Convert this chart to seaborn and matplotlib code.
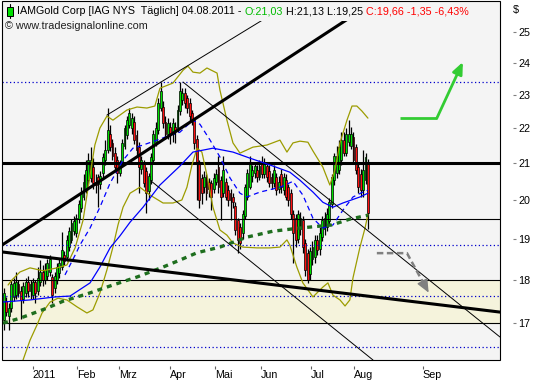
import numpy as np
import matplotlib
matplotlib.use("Agg")
import matplotlib.pyplot as plt
import seaborn as sns
from matplotlib.offsetbox import TextArea, HPacker, AnchoredOffsetbox, DrawingArea
from matplotlib.patches import Rectangle
from matplotlib.lines import Line2D
from matplotlib.ticker import FixedLocator, FixedFormatter, NullLocator

sns.set_style("white")
plt.rcParams['font.family'] = ['Liberation Sans', 'DejaVu Sans']

# ---------------- data ----------------
opens = [17.07, 17.50, 17.15, 17.35, 17.60, 17.65, 17.90, 17.75, 17.55, 17.70,
         17.95, 17.75, 17.65, 17.95, 17.75, 17.95, 18.20, 18.00, 18.10, 18.20,
         18.07, 17.80, 18.00, 18.17, 18.32, 18.60, 18.55, 18.80, 18.98, 19.20,
         19.15, 19.50, 19.80, 20.10, 20.27, 20.54, 20.60, 20.90, 20.50, 20.62,
         20.45, 20.74, 21.10, 21.38, 21.85, 21.57, 21.30, 21.10, 20.75, 21.00,
         21.50, 21.80, 22.10, 22.00, 22.20, 21.80, 21.45, 20.85, 21.00, 20.80,
         20.25, 20.54, 21.10, 21.60, 21.95, 22.60, 22.63, 22.20, 21.85, 22.05,
         21.85, 22.05, 22.00, 22.50, 22.85, 23.05, 22.90, 22.75, 22.45, 22.24,
         21.70, 21.05, 20.60, 20.35, 20.60, 20.50, 20.46, 20.30, 20.50, 20.90,
         20.54, 20.20, 20.50, 20.27, 20.20, 20.10, 19.85, 19.48, 19.30, 19.15,
         19.60, 20.10, 20.35, 20.65, 20.75, 20.82, 20.62, 21.00, 20.72, 20.92,
         20.80, 20.62, 20.46, 20.62, 20.30, 20.72, 20.27, 20.54, 20.35, 20.20,
         19.65, 19.55, 19.00, 19.25, 19.48, 18.90, 18.65, 18.15, 18.50, 18.55,
         18.98, 18.75, 19.05, 19.25, 19.30, 19.45, 19.90, 20.54, 20.75, 20.82,
         21.09, 21.66, 21.30, 21.60, 21.50, 21.75, 21.45, 20.90, 20.72, 20.27,
         20.54, 21.03]
closes = [17.70, 17.25, 17.35, 17.90, 17.93, 17.95, 17.70, 17.53, 17.85, 17.95,
          17.75, 17.90, 17.95, 17.70, 18.05, 18.20, 18.00, 18.25, 18.40, 18.50,
          17.65, 18.10, 18.30, 18.40, 18.73, 18.45, 18.98, 19.20, 19.40, 19.45,
          19.55, 19.90, 20.20, 20.50, 20.82, 21.09, 21.10, 20.46, 20.40, 20.46,
          20.65, 21.17, 21.38, 21.95, 21.47, 21.20, 20.90, 20.74, 21.00, 21.57,
          22.00, 22.24, 22.45, 22.30, 21.66, 21.38, 20.90, 21.09, 20.46, 20.20,
          20.65, 21.17, 21.85, 22.00, 22.75, 23.10, 22.15, 21.85, 22.15, 21.85,
          22.15, 21.95, 22.55, 23.10, 23.05, 22.75, 22.60, 22.35, 22.24, 21.57,
          21.00, 20.00, 20.20, 20.62, 20.20, 20.30, 20.10, 20.60, 20.72, 20.35,
          20.10, 20.82, 20.10, 20.00, 20.00, 19.95, 19.23, 18.98, 18.90, 19.65,
          20.35, 20.75, 21.00, 20.82, 20.92, 20.62, 20.92, 20.72, 21.00, 20.62,
          20.46, 20.46, 20.82, 20.27, 20.50, 20.35, 20.62, 20.10, 20.00, 19.65,
          19.15, 18.98, 19.65, 19.55, 18.80, 18.24, 18.00, 18.70, 18.80, 18.98,
          18.73, 19.15, 19.48, 19.55, 19.65, 19.95, 20.62, 21.20, 21.20, 21.47,
          21.66, 21.30, 21.85, 21.85, 21.85, 21.10, 20.82, 20.35, 20.27, 20.82,
          21.17, 19.66]
highs = [17.80, 17.60, 17.45, 18.00, 18.05, 18.20, 18.00, 17.85, 17.95, 18.05,
         18.10, 18.00, 18.05, 18.00, 18.30, 18.48, 18.35, 18.40, 18.50, 18.60,
         18.15, 18.20, 18.40, 18.50, 19.18, 18.70, 19.10, 19.30, 19.50, 19.60,
         19.65, 20.00, 20.35, 20.70, 21.09, 21.30, 21.45, 21.15, 20.70, 20.70,
         20.80, 21.30, 21.66, 22.60, 22.10, 21.70, 21.45, 21.20, 21.10, 21.70,
         22.10, 22.35, 22.60, 22.45, 22.35, 21.95, 21.60, 21.20, 21.10, 20.90,
         20.75, 21.30, 21.95, 22.20, 22.90, 23.40, 22.80, 22.35, 22.30, 22.20,
         22.30, 22.20, 22.70, 23.40, 23.20, 23.20, 23.00, 22.90, 22.55, 22.30,
         21.80, 21.10, 20.70, 20.80, 20.70, 20.60, 20.55, 20.75, 20.85, 21.20,
         20.65, 21.20, 20.60, 20.40, 20.30, 20.20, 19.95, 19.55, 19.40, 19.75,
         20.45, 20.85, 21.20, 20.95, 21.05, 20.95, 21.10, 21.20, 21.15, 21.05,
         20.95, 20.75, 20.95, 20.75, 20.65, 20.85, 20.75, 20.70, 20.45, 20.30,
         19.75, 19.65, 19.75, 19.70, 19.60, 19.00, 18.75, 18.80, 18.95, 19.10,
         19.10, 19.30, 19.60, 19.70, 19.80, 20.05, 20.70, 21.30, 21.50, 21.65,
         21.90, 21.90, 22.00, 22.24, 22.05, 21.90, 21.55, 21.00, 20.85, 21.38,
         21.30, 21.13]
lows = [16.84, 17.15, 16.85, 17.25, 17.50, 17.55, 17.60, 17.10, 17.45, 17.60,
        17.60, 17.55, 17.55, 17.45, 17.65, 17.85, 17.85, 17.90, 18.00, 18.10,
        17.46, 17.70, 17.90, 18.05, 18.25, 18.35, 18.45, 18.70, 18.90, 19.10,
        19.05, 19.40, 19.70, 20.00, 20.20, 20.45, 20.50, 20.30, 20.20, 19.82,
        20.30, 20.60, 20.95, 21.30, 21.35, 21.10, 20.80, 20.46, 20.65, 20.95,
        21.40, 21.70, 22.00, 21.85, 21.55, 21.20, 20.20, 20.70, 20.35, 19.66,
        20.00, 20.45, 21.00, 21.50, 21.85, 22.50, 22.00, 21.70, 21.70, 21.55,
        21.60, 21.57, 21.90, 22.40, 22.70, 22.60, 22.45, 22.20, 22.10, 21.40,
        20.00, 19.80, 19.90, 20.20, 20.00, 20.10, 19.74, 20.20, 20.40, 20.20,
        19.48, 20.10, 20.00, 19.85, 19.48, 19.80, 19.10, 18.65, 18.75, 19.00,
        19.50, 20.00, 20.30, 20.50, 20.60, 20.50, 20.55, 20.60, 20.60, 20.50,
        20.35, 20.30, 20.35, 20.15, 20.20, 20.20, 20.15, 20.00, 19.85, 19.50,
        18.40, 18.80, 18.90, 19.10, 18.65, 18.10, 17.93, 18.00, 18.35, 18.40,
        18.60, 18.60, 18.95, 19.10, 19.20, 19.35, 19.80, 20.40, 20.60, 20.70,
        20.95, 21.20, 21.20, 21.50, 21.40, 21.00, 20.70, 20.20, 20.10, 20.10,
        20.45, 19.25]

month_ticks = [12.0, 30.3, 47.7, 68.9, 87.5, 106.6, 127.4, 145.2, 173.8]
month_labels = ["2011", "Feb", "Mrz", "Apr", "Mai", "Jun", "Jul", "Aug", "Sep"]
price_ticks = [17, 18, 19, 20, 21, 22, 23, 24, 25]

# moving averages / bands
fast_x = [25.3, 29.5, 31.5, 35.7, 39.8, 44.0, 49.4, 53.5, 57.7, 63.5, 68.9, 73.0, 78.4, 81.3, 85.5,
          89.6, 93.8, 97.9, 100.8, 106.2, 114.5, 119.9, 124.0, 128.2, 132.3, 136.5, 140.6, 144.8, 148.9, 151.0]
fast_y = [18.12, 18.60, 18.85, 19.28, 19.82, 20.46, 21.09, 21.43, 21.52, 21.66, 21.80, 21.89, 22.24, 22.12, 21.66,
          21.18, 20.60, 20.19, 20.09, 20.22, 20.35, 20.51, 20.14, 19.53, 19.28, 19.36, 19.74, 20.09, 20.22, 20.27]
mid_x = [-0.8, 10.8, 21.2, 27.4, 35.7, 39.8, 44.0, 48.1, 52.3, 57.7, 64.7, 73.0, 78.4, 86.7, 95.0, 102.0,
         110.3, 118.6, 122.8, 128.2, 132.3, 136.5, 140.6, 147.7, 151.0]
mid_y = [17.48, 17.53, 17.60, 17.62, 17.93, 18.31, 18.78, 19.08, 19.43, 19.82, 20.41, 20.93, 21.32, 21.43, 21.32, 21.15,
         20.96, 20.76, 20.54, 20.22, 19.95, 19.82, 19.93, 20.09, 20.19]
slow_x = [-0.4, 6.6, 17.8, 24.5, 34.4, 45.2, 55.2, 66.0, 73.0, 80.1, 89.6, 100.8, 111.6, 122.8, 136.1, 143.5, 151.0]
slow_y = [17.00, 17.11, 17.34, 17.50, 17.67, 17.88, 18.07, 18.31, 18.48, 18.66, 18.80, 19.05, 19.20, 19.28, 19.36, 19.51, 19.61]
upper_x = [1.7, 3.3, 6.6, 10.8, 16.2, 22.0, 26.1, 29.5, 32.8, 35.7, 37.7, 39.8, 42.7, 45.2, 48.1, 51.0, 55.2, 59.3,
           62.6, 64.7, 70.1, 74.3, 76.3, 78.4, 81.3, 84.2, 88.4, 89.6, 92.5, 95.0, 97.9, 103.3, 109.1, 114.5, 117.4,
           119.9, 122.8, 126.1, 128.2, 132.3, 135.2, 137.3, 139.4, 142.3, 144.4, 146.4, 148.5, 151.0]
upper_y = [17.88, 18.00, 18.19, 18.29, 18.22, 18.29, 18.36, 18.78, 19.48, 20.68, 21.52, 22.01, 22.36, 22.24, 22.39,
           22.54, 22.63, 22.60, 22.66, 23.20, 23.36, 23.76, 23.89, 23.70, 23.67, 23.83, 23.67, 23.14, 22.24, 21.58,
           21.29, 21.46, 21.52, 21.66, 21.32, 21.58, 21.63, 21.60, 21.35, 20.90, 20.41, 20.82, 21.58, 22.24, 22.66,
           22.66, 22.51, 22.30]
lower_x = [7.9, 10.8, 13.7, 15.8, 19.1, 22.4, 26.1, 30.3, 34.4, 36.9, 39.8, 42.7, 45.2, 47.3, 49.4, 52.3, 56.4, 60.6,
           66.0, 70.1, 73.8, 75.9, 78.0, 80.1, 82.1, 84.2, 86.7, 89.6, 92.5, 95.0, 99.1, 105.0, 110.3, 114.5, 117.4,
           118.6, 121.5, 124.0, 128.2, 132.3, 134.4, 136.5, 139.4, 141.5, 143.5, 144.8, 147.7, 149.8, 151.0]
lower_y = [16.19, 16.62, 16.96, 17.23, 17.48, 17.57, 17.53, 17.37, 17.23, 17.30, 17.69, 18.24, 18.80, 19.36, 19.82,
           20.19, 20.35, 20.14, 19.93, 19.93, 20.01, 20.35, 20.96, 21.43, 21.32, 20.68, 19.82, 19.23, 19.10, 18.90,
           18.80, 18.78, 18.78, 18.80, 18.98, 18.85, 18.31, 17.93, 17.60, 17.83, 17.93, 17.64, 17.53, 17.39, 17.53,
           18.05, 18.80, 19.28, 19.63]

# horizontal levels
thick_level = 21.0
thin_levels = [19.5, 18.0, 17.0]
dotted_levels = [23.40, 18.85, 17.62, 16.48]
band_low, band_high = 17.0, 18.0

# trend lines (index, price)
up_thin_x, up_thin_y = [42.7, 120.0], [22.39, 26.03]
up_thick_x, up_thick_y = [-0.83, 153.9], [18.85, 26.03]
dn_upper_x, dn_upper_y = [74.3, 205.8], [23.39, 16.69]
dn_lower_x, dn_lower_y = [61.0, 153.1], [20.52, 16.19]
dn_thick_x, dn_thick_y = [-0.83, 205.8], [18.68, 17.25]

# projection arrows
green_arrow_x, green_arrow_y = [164.3, 179.6, 190.4], [22.30, 22.30, 24.02]
gray_arrow_x, gray_arrow_y = [154.7, 167.2, 176.2], [18.65, 18.65, 17.70]

# ---------------- figure ----------------
BG = '#f4f4f4'
FS = 7.75
fig = plt.figure(figsize=(5.33, 3.80), dpi=100)
fig.patch.set_facecolor('white')
ax = fig.add_axes([2/533, 20/380, 498/533, 359/380])
ax.set_facecolor(BG)
ax.set_yscale('log')
ax.set_xlim(-0.83, 205.8)
ax.set_ylim(16.19, 26.04)

for s in ax.spines.values():
    s.set_visible(False)
ax.spines['right'].set_position(('outward', 9))
ax.spines['bottom'].set_position(('outward', 4))
ax.add_patch(Rectangle((0, 0), 1, 1, transform=ax.transAxes, fill=False,
                       edgecolor='black', lw=0.8, clip_on=False, zorder=20))

ax.yaxis.tick_right()
ax.yaxis.set_major_locator(FixedLocator(price_ticks))
ax.yaxis.set_major_formatter(FixedFormatter([str(t) for t in price_ticks]))
ax.yaxis.set_minor_locator(NullLocator())
ax.tick_params(axis='y', which='major', direction='out', length=2.2, width=0.8,
               color='#808080', pad=2, labelsize=FS, labelcolor='black',
               left=False, right=True, labelleft=False, labelright=True)
ax.set_xticks(month_ticks)
ax.set_xticklabels(month_labels)
ax.xaxis.set_minor_locator(NullLocator())
ax.tick_params(axis='x', direction='out', length=2.5, width=0.8, color='#606060',
               pad=1, labelsize=FS, labelcolor='black', bottom=True)
for lab in ax.get_xticklabels():
    lab.set_horizontalalignment('left')

# background band and levels
ax.axhspan(band_low, band_high, facecolor='#f5f3dc', edgecolor='none', zorder=0)
for lvl in thin_levels:
    ax.axhline(lvl, color='black', lw=0.8, zorder=3)
ax.axhline(thick_level, color='black', lw=2.2, zorder=3)
for lvl in dotted_levels:
    ax.axhline(lvl, color='#0000cc', lw=0.9, ls=(0, (1, 2)), zorder=3)

# candles
xi = np.arange(len(closes))
o = np.array(opens)
c = np.array(closes)
up = c >= o
ax.vlines(xi, lows, highs, color='black', lw=0.9, zorder=2)
ax.bar(xi, np.maximum(np.abs(c - o), 0.02), bottom=np.minimum(o, c), width=0.78,
       color=np.where(up, '#00e000', '#ff1010'), edgecolor='black', linewidth=0.5, zorder=2.5)

def sline(xs, ys, color, lw, ls='-', z=4):
    sns.lineplot(x=xs, y=ys, ax=ax, estimator=None, sort=False, color=color, lw=lw)
    ln = ax.lines[-1]
    ln.set_linestyle(ls)
    ln.set_zorder(z)
    return ln

sline(upper_x, upper_y, '#9c9c00', 0.9)
sline(lower_x, lower_y, '#9c9c00', 0.9)
sline(mid_x, mid_y, '#0000ff', 0.9)
sline(fast_x, fast_y, '#0000ff', 0.9, ls=(0, (4, 3)))
sline(slow_x, slow_y, '#1e6e1e', 2.4, ls=(0, (1.5, 1.5)))

# trend lines
sline(up_thin_x, up_thin_y, 'black', 0.7, z=5)
sline(up_thick_x, up_thick_y, 'black', 2.2, z=5)
sline(dn_upper_x, dn_upper_y, 'black', 0.7, z=5)
sline(dn_lower_x, dn_lower_y, 'black', 0.7, z=5)
sline(dn_thick_x, dn_thick_y, 'black', 2.2, z=5)

# green projection arrow
ax.plot(green_arrow_x[:2], green_arrow_y[:2], color='#33cc33', lw=2.0, solid_capstyle='butt', zorder=6)
ax.annotate('', xy=(green_arrow_x[2], green_arrow_y[2]), xytext=(green_arrow_x[1], green_arrow_y[1]),
            arrowprops=dict(arrowstyle='-|>,head_length=0.7,head_width=0.3', color='#33cc33',
                            lw=2.0, shrinkA=0, shrinkB=0), zorder=6)

# gray dashed projection arrow
f = 0.72
hx = gray_arrow_x[1] + f * (gray_arrow_x[2] - gray_arrow_x[1])
hy = gray_arrow_y[1] * (gray_arrow_y[2] / gray_arrow_y[1]) ** f
ax.plot(gray_arrow_x[:2] + [hx], gray_arrow_y[:2] + [hy], color='#808080', lw=1.8,
        ls=(0, (2.6, 1.4)), zorder=6)
ax.annotate('', xy=(gray_arrow_x[2], gray_arrow_y[2]), xytext=(hx, hy),
            arrowprops=dict(arrowstyle='-|>,head_length=0.8,head_width=0.35', color='#808080',
                            lw=1.0, shrinkA=0, shrinkB=0), zorder=6)

# header
icon = DrawingArea(6, 10, 0, 0)
icon.add_artist(Line2D([3, 3], [0, 10], color='black', lw=0.8))
icon.add_artist(Rectangle((1, 2), 4, 6, facecolor='#00e000', edgecolor='black', lw=0.7))
tp = dict(fontsize=FS)
parts = [icon,
         TextArea("IAMGold Corp [IAG NYS  Täglich] 04.08.2011 -", textprops=dict(color='black', **tp)),
         TextArea("O:21,03", textprops=dict(color='#00bb00', **tp)),
         TextArea("H:21,13 L:19,25", textprops=dict(color='black', **tp)),
         TextArea("C:19,66 -1,35 -6,43%", textprops=dict(color='#ff0000', **tp))]
box = HPacker(children=parts, align="center", pad=0, sep=2.2)
anch = AnchoredOffsetbox(loc='upper left', child=box, pad=0.2, frameon=True,
                         bbox_to_anchor=(0.002, 0.998), bbox_transform=ax.transAxes, borderpad=0)
anch.patch.set_facecolor(BG)
anch.patch.set_edgecolor('none')
anch.set_zorder(15)
ax.add_artist(anch)

fig.text(5/533, 1 - 26/380, '© www.tradesignalonline.com', ha='left', va='center',
         fontsize=FS, color='#202020')
fig.text(516/533, 1 - 10/380, '$', ha='center', va='center', fontsize=FS, color='black')

fig.savefig('out.png', dpi=100, facecolor='white')
